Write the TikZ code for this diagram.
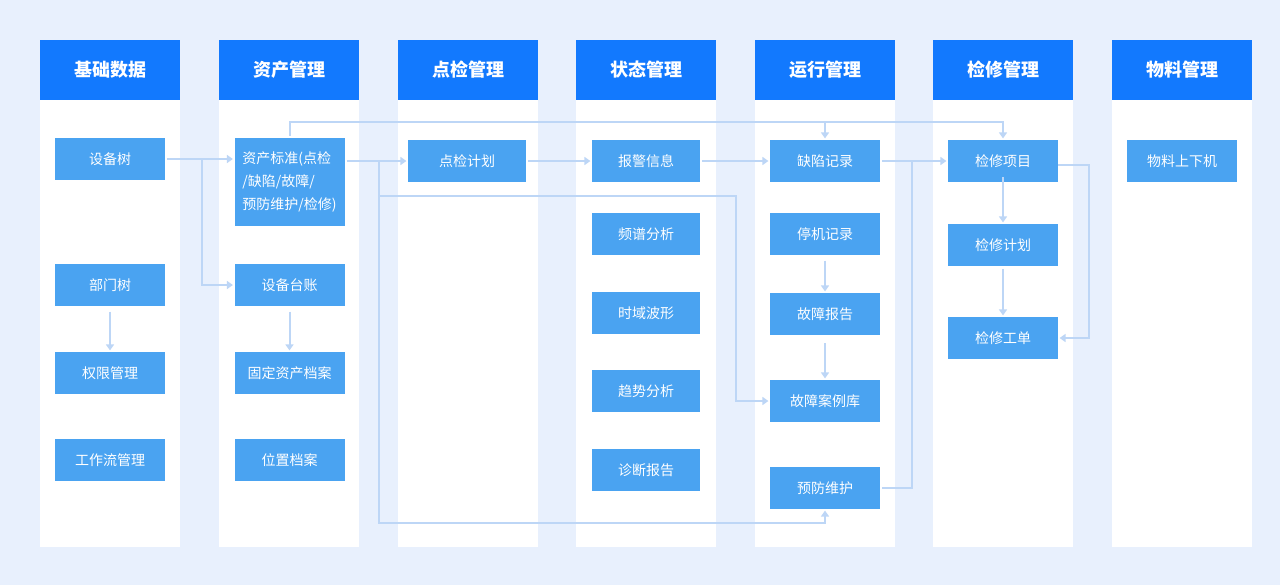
\documentclass[tikz,border=0pt]{standalone}
\usepackage{fontspec}
\setmainfont{Noto Sans CJK SC}
\usetikzlibrary{arrows.meta}

\definecolor{pagebg}{HTML}{E8F0FD}
\definecolor{headblue}{HTML}{1279FE}
\definecolor{boxblue}{HTML}{4AA3F1}
\definecolor{linkblue}{HTML}{BDD6F6}

\begin{document}
\begin{tikzpicture}[x=0.75pt,y=-0.75pt,
    head/.style={fill=headblue, text=white, minimum width=105pt, minimum height=45pt, inner sep=0pt, font=\fontsize{13.5}{16}\selectfont\bfseries},
    box/.style={fill=boxblue, text=white, minimum width=82.5pt, minimum height=31.5pt, inner sep=0pt, font=\fontsize{10.5}{15}\selectfont},
    link/.style={draw=linkblue, line width=1.5pt, -{Triangle[width=6pt,length=4.5pt]}, shorten <=1.5pt, shorten >=1pt}]
    \useasboundingbox (0,0) rectangle (1280,585);
    \fill[pagebg] (0,0) rectangle (1280,585);

    % columns
    \foreach \x in {40,219,398,576,755,933,1112}
        \fill[white] (\x,100) rectangle (\x+140,547);

    \node[head] (h1) at (110,70) {基础数据};
    \node[head] (h2) at (289,70) {资产管理};
    \node[head] (h3) at (468,70) {点检管理};
    \node[head] (h4) at (646,70) {状态管理};
    \node[head] (h5) at (825,70) {运行管理};
    \node[head] (h6) at (1003,70) {检修管理};
    \node[head] (h7) at (1182,70) {物料管理};

    % base data
    \node[box] (sbs) at (110,159) {设备树};
    \node[box] (bmts) at (110,285) {部门树};
    \node[box] (qxgl) at (110,373) {权限管理};
    \node[box] (gzlgl) at (110,460) {工作流管理};

    % assets
    \node[box, minimum height=66pt, align=left, font=\fontsize{10.5}{17.5}\selectfont] (zcbz) at (289.5,182) {资产标准(点检\\/缺陷/故障/\\预防维护/检修)};
    \node[box] (sbtz) at (289.5,285) {设备台账};
    \node[box] (gdzc) at (289.5,373) {固定资产档案};
    \node[box] (wzda) at (289.5,460) {位置档案};

    % inspection
    \node[box, minimum width=88.5pt] (djjh) at (467,161) {点检计划};

    % condition
    \node[box, minimum width=81pt] (bjxx) at (646,161) {报警信息};
    \node[box, minimum width=81pt] (ppfx) at (646,234) {频谱分析};
    \node[box, minimum width=81pt] (sybx) at (646,313) {时域波形};
    \node[box, minimum width=81pt] (qsfx) at (646,391) {趋势分析};
    \node[box, minimum width=81pt] (zdbg) at (646,470) {诊断报告};

    % operation
    \node[box] (qxjl) at (825,161) {缺陷记录};
    \node[box] (tjjl) at (825,234) {停机记录};
    \node[box] (gzbg) at (825,314) {故障报告};
    \node[box] (gzal) at (825,401) {故障案例库};
    \node[box] (yfwh) at (825,488) {预防维护};

    % maintenance
    \node[box] (jxxm) at (1003,161) {检修项目};
    \node[box] (jxjh) at (1003,245) {检修计划};
    \node[box] (jxgd) at (1003,338) {检修工单};

    % material
    \node[box] (wlsx) at (1182,161) {物料上下机};

    % connectors
    \coordinate (j1) at (202,159);
    \coordinate (j2) at (379,161);
    \coordinate (j3) at (379,196);
    \coordinate (b1) at (379,523);
    \coordinate (b2) at (736,196);
    \coordinate (t1) at (289.5,122);
    \coordinate (r1) at (912,161);

    \draw[link] (sbs.east) -- (sbs.east -| zcbz.west);
    \draw[link, shorten <=0pt] (j1) |- (sbtz.west);
    \draw[link, shorten <=4pt] (bmts.south) -- (qxgl.north);
    \draw[link, shorten <=4pt] (sbtz.south) -- (gdzc.north);

    \draw[link] (zcbz.east |- djjh.west) -- (djjh.west);
    \draw[link, shorten <=0pt] (j2) -- (b1) -| (yfwh.south);
    \draw[link, shorten <=0pt] (j3) -- (b2) |- (gzal.west);
    \draw[link] (zcbz.north) -- (t1) -| (jxxm.north);
    \draw[link, shorten <=0pt] (t1 -| qxjl.north) -- (qxjl.north);

    \draw[link] (djjh.east) -- (bjxx.west);
    \draw[link] (bjxx.east) -- (qxjl.west);
    \draw[link] (qxjl.east) -- (jxxm.west);
    \draw[link, -] (yfwh.east) -| (r1);

    \draw[link, shorten <=4pt] (tjjl.south) -- (gzbg.north);
    \draw[link, shorten <=6pt] (gzbg.south) -- (gzal.north);
    \draw[link, shorten <=-4pt] (jxxm.south) -- (jxjh.north);
    \draw[link, shorten <=2pt] (jxjh.south) -- (jxgd.north);
    \draw[link, shorten <=0pt] ([yshift=-3pt]jxxm.east) -- ++(31,0) |- (jxgd.east);
\end{tikzpicture}
\end{document}
